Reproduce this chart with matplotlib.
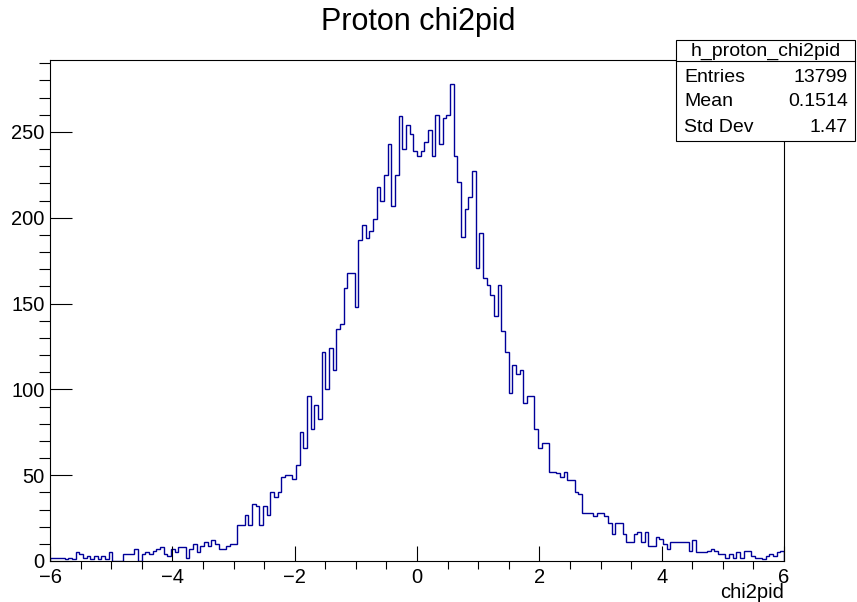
import numpy as np
import matplotlib
matplotlib.use("Agg")
import matplotlib.pyplot as plt
from matplotlib.patches import Rectangle
from matplotlib.lines import Line2D
from matplotlib.ticker import MultipleLocator

plt.rcParams['font.family'] = ['Liberation Sans', 'DejaVu Sans']

# histogram: 200 bins from -6 to 6, counts
x_min, x_max, n_bins = -6.0, 6.0, 200
counts = [
    2, 2, 2, 2, 1, 2, 1, 5, 4, 2,
    3, 1, 3, 1, 3, 1, 5, 0, 0, 0,
    4, 4, 4, 7, 0, 4, 5, 4, 6, 7,
    8, 4, 3, 7, 5, 8, 8, 2, 7, 10,
    5, 9, 11, 9, 12, 10, 7, 7, 9, 10,
    10, 21, 21, 27, 21, 33, 32, 21, 32, 27,
    40, 37, 40, 49, 50, 50, 48, 56, 75, 66,
    96, 77, 91, 83, 122, 100, 124, 111, 135, 138,
    159, 168, 168, 148, 187, 196, 188, 192, 199, 218,
    210, 225, 243, 207, 225, 259, 240, 254, 249, 239,
    236, 239, 244, 251, 236, 260, 243, 258, 260, 278,
    236, 221, 189, 205, 212, 227, 171, 191, 165, 161,
    155, 143, 161, 134, 122, 98, 114, 109, 111, 92,
    96, 96, 77, 66, 69, 69, 52, 52, 51, 49,
    52, 47, 47, 40, 39, 28, 28, 28, 26, 28,
    28, 26, 22, 16, 22, 22, 16, 11, 11, 16,
    17, 11, 17, 9, 9, 14, 13, 10, 7, 11,
    11, 11, 11, 11, 6, 12, 5, 5, 5, 6,
    7, 6, 4, 4, 2, 4, 2, 5, 2, 6,
    6, 3, 2, 2, 1, 3, 4, 3, 5, 6,
]

title = "Proton chi2pid"
x_title = "chi2pid"
x_ticks = [-6, -4, -2, 0, 2, 4, 6]
y_ticks = [0, 50, 100, 150, 200, 250]

stats_name = "h_proton_chi2pid"
stats_labels = ["Entries", "Mean", "Std Dev"]
stats_values = ["13799", "0.1514", "1.47"]

W, H = 857, 602
line_col = '#000099'


def px(x, y):
    # pixel (from top-left) -> figure fraction
    return x / W, 1 - y / H


fig = plt.figure(figsize=(W / 100, H / 100), dpi=100)
ax = fig.add_axes([50 / W, 1 - 561 / H, 734 / W, 501 / H])

edges = np.linspace(x_min, x_max, n_bins + 1)
ax.stairs(counts, edges, color=line_col, linewidth=1.0)

ax.set_xlim(x_min, x_max)
ax.set_ylim(0, 1.05 * max(counts))
ax.set_xticks(x_ticks)
ax.set_yticks(y_ticks)
ax.xaxis.set_minor_locator(MultipleLocator(0.5))
ax.yaxis.set_minor_locator(MultipleLocator(10))

for s in ax.spines.values():
    s.set_linewidth(0.8)

ax.tick_params(direction='in', top=False, right=False, labelsize=14.5, width=0.8)
ax.tick_params(axis='x', which='major', length=10.8, pad=5)
ax.tick_params(axis='x', which='minor', length=5.4, width=0.8)
ax.tick_params(axis='y', which='major', length=15.8, pad=4)
ax.tick_params(axis='y', which='minor', length=7.9, width=0.8)

# title and axis title
fig.text(*px(418, 22), title, ha='center', va='center', fontsize=22)
fig.text(*px(784, 593), x_title, ha='right', va='center', fontsize=14.5)

# stats box
bx0, bx1, by0, by_sep, by1 = 676, 855, 40, 61, 141
x0, y0 = px(bx0, by1)
x1, y1 = px(bx1, by0)
fig.add_artist(Rectangle((x0, y0), x1 - x0, y1 - y0, transform=fig.transFigure,
                         facecolor='white', edgecolor='black', linewidth=0.8, zorder=5))
sx0, sy = px(bx0, by_sep)
sx1, _ = px(bx1, by_sep)
fig.add_artist(Line2D([sx0, sx1], [sy, sy], transform=fig.transFigure,
                      color='black', linewidth=0.8, zorder=6))
fig.text(*px((bx0 + bx1) / 2, 51), stats_name, ha='center', va='center',
         fontsize=14, zorder=7)
for i, (lab, val) in enumerate(zip(stats_labels, stats_values)):
    yy = 77 + 25 * i
    fig.text(*px(684, yy), lab, ha='left', va='center', fontsize=14, zorder=7)
    fig.text(*px(848, yy), val, ha='right', va='center', fontsize=14, zorder=7)

fig.savefig("out.png", dpi=100)
